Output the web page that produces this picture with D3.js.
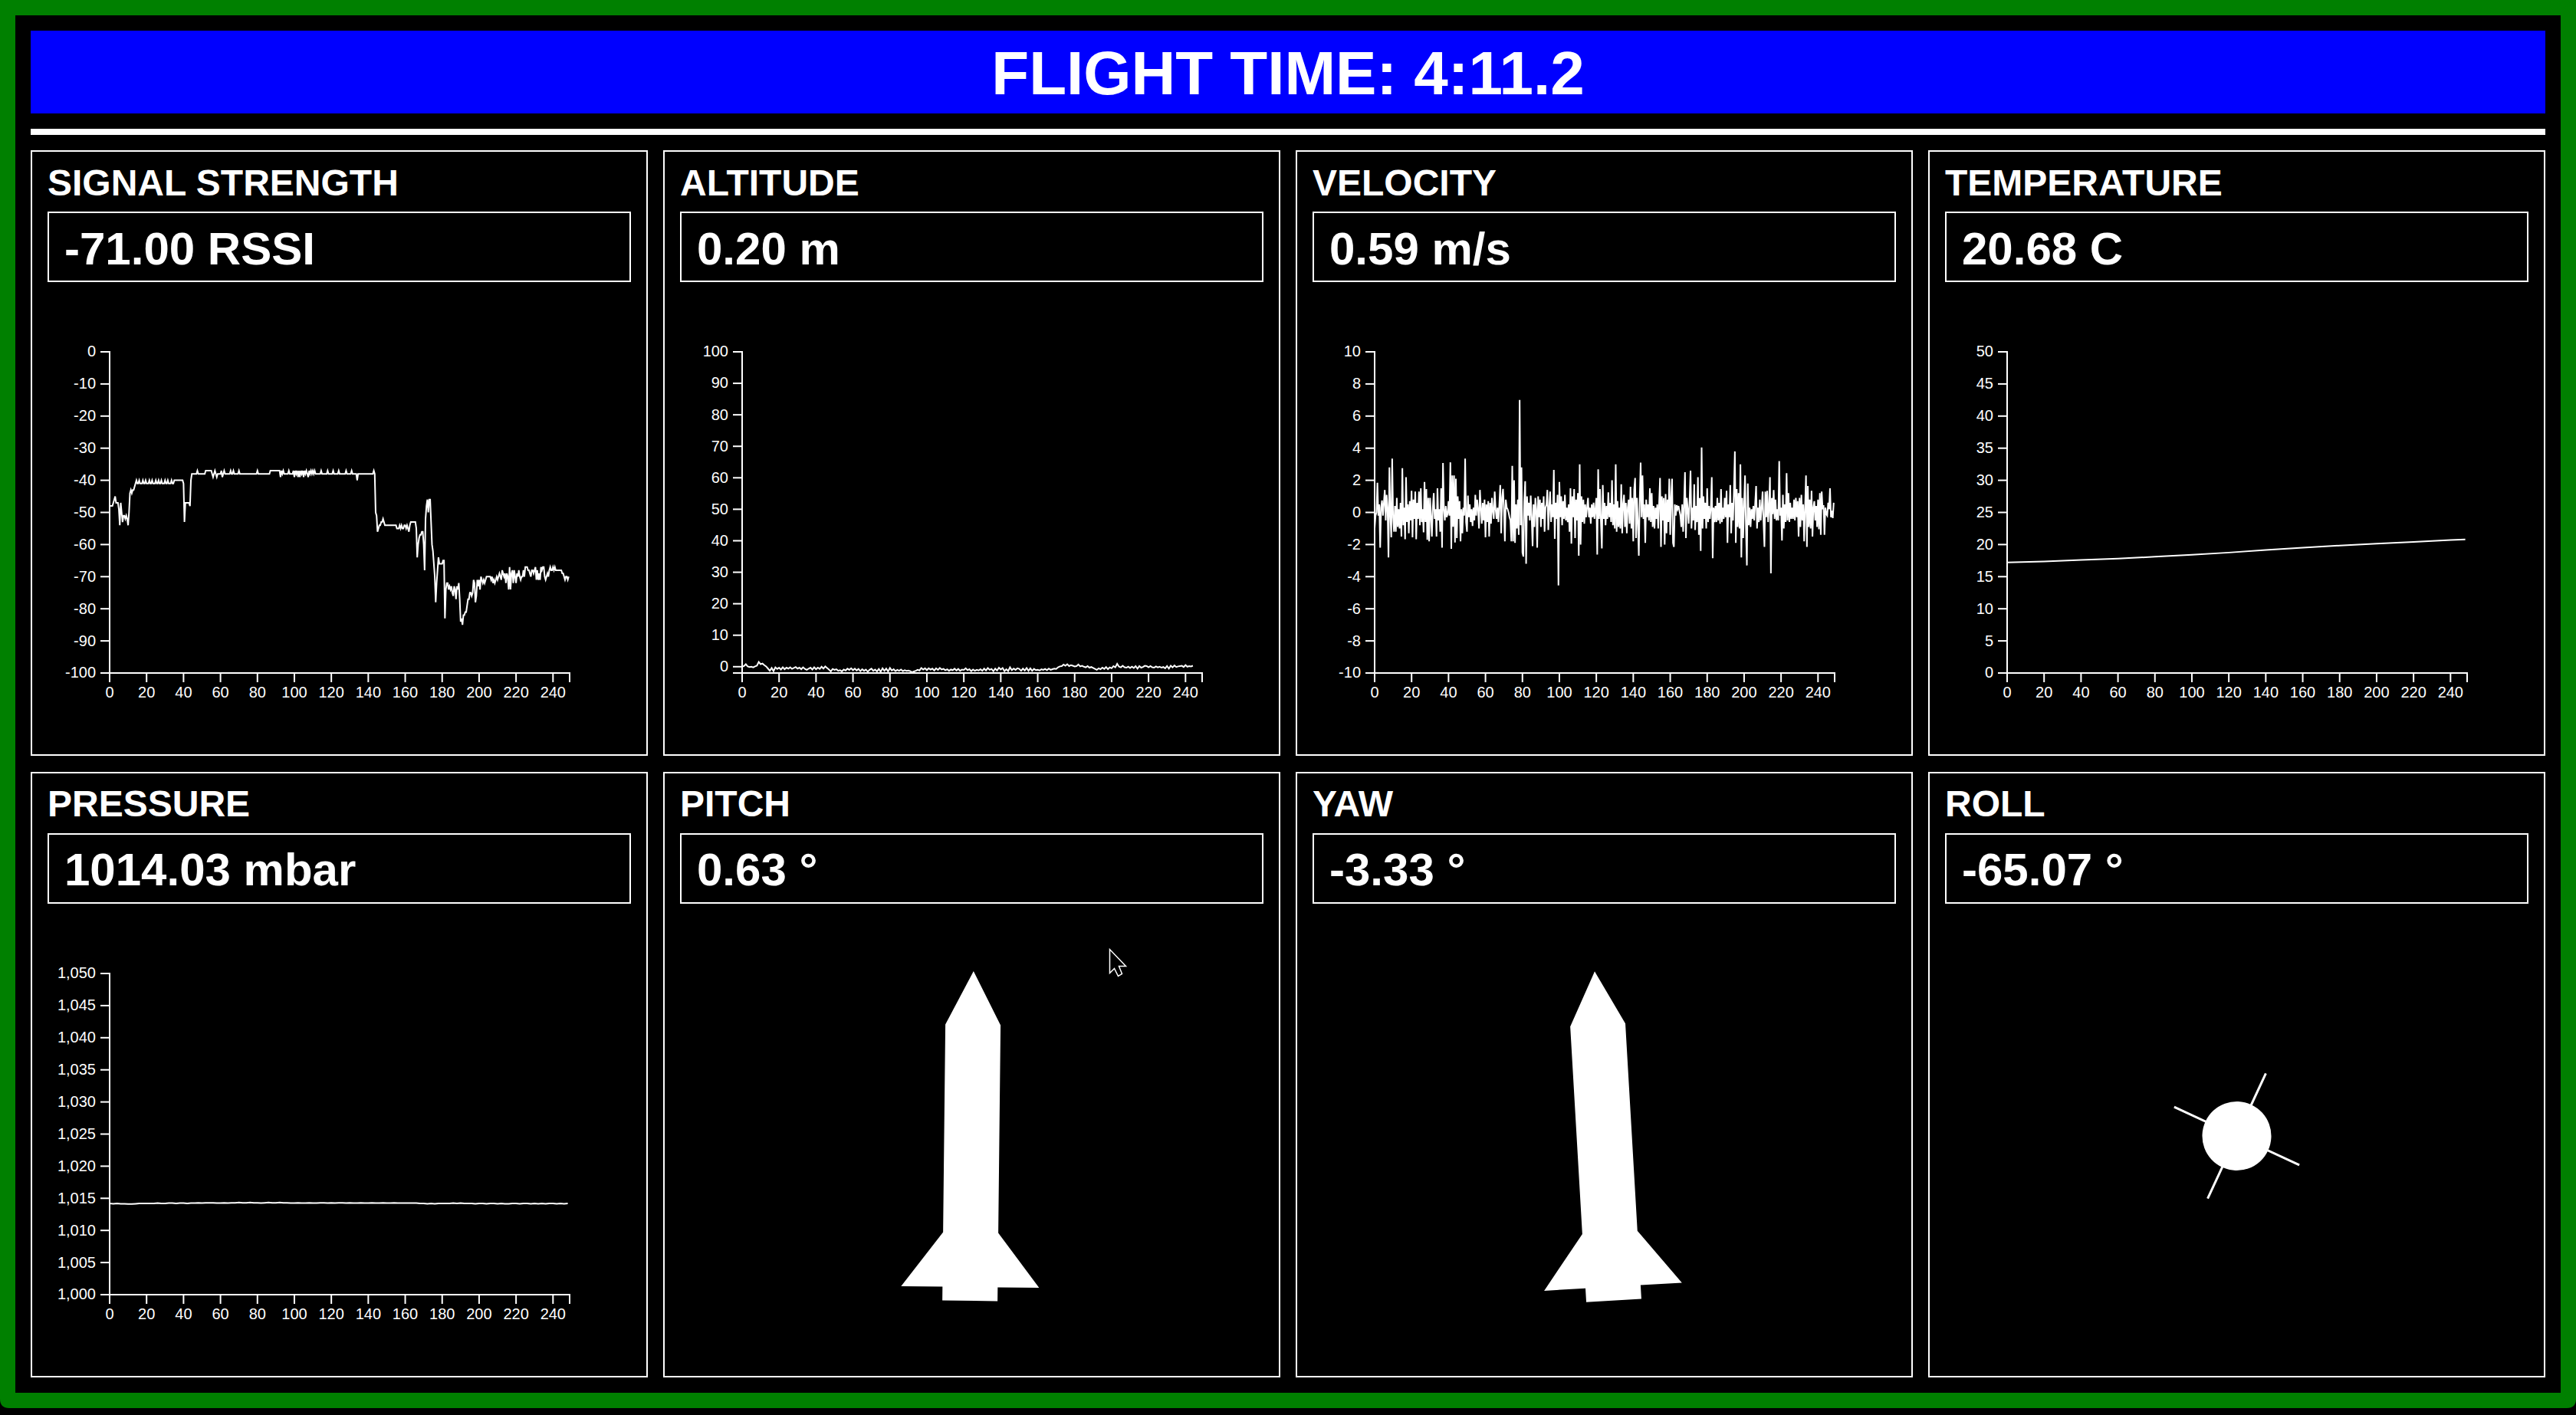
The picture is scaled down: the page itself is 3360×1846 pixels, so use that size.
<!DOCTYPE html>
<html>
<head>
<meta charset="utf-8">
<title>Flight telemetry</title>
<script src="https://cdn.jsdelivr.net/npm/d3@7"></script>
<style>
  html, body { margin: 0; padding: 0; background: #000; overflow: hidden; }
  svg { display: block; font-family: "Liberation Sans", Arial, sans-serif; }
  .tick text { font-size: 20px; fill: #fff; font-family: "Liberation Sans", Arial, sans-serif; }
  .tick line, .domain { stroke: #fff; stroke-width: 2; }
</style>
</head>
<body>
<script>
const width = 3360,
  height = 1846;

const flightTime = "FLIGHT TIME: 4:11.2";
const panelTitles = ["SIGNAL STRENGTH", "ALTITUDE", "VELOCITY", "TEMPERATURE", "PRESSURE", "PITCH", "YAW", "ROLL"];
const panelReadouts = ["-71.00 RSSI", "0.20 m", "0.59 m/s", "20.68 C", "1014.03 mbar", "0.63 °", "-3.33 °", "-65.07 °"];

const timeTicks = [0, 20, 40, 60, 80, 100, 120, 140, 160, 180, 200, 220, 240];
const timeMax = 249;

const signalTicks = [0, -10, -20, -30, -40, -50, -60, -70, -80, -90, -100];
const altitudeTicks = [0, 10, 20, 30, 40, 50, 60, 70, 80, 90, 100];
const velocityTicks = [-10, -8, -6, -4, -2, 0, 2, 4, 6, 8, 10];
const temperatureTicks = [0, 5, 10, 15, 20, 25, 30, 35, 40, 45, 50];
const pressureTicks = [1000, 1005, 1010, 1015, 1020, 1025, 1030, 1035, 1040, 1045, 1050];

// one reading every half second
const signalValues = [
  -48,-48,-48,-48,-47,-46,-45,-47,-47,-47,
  -49,-54,-47,-50,-53,-51,-51,-52,-51,-52,
  -54,-50,-44,-43,-44,-43,-43,-42,-41,-40,
  -41,-41,-40,-41,-41,-41,-40,-41,-41,-40,
  -41,-41,-41,-40,-41,-41,-40,-41,-41,-41,
  -40,-41,-41,-40,-41,-41,-40,-41,-41,-41,
  -40,-41,-41,-40,-41,-41,-41,-40,-41,-41,
  -40,-40,-40,-40,-40,-40,-40,-40,-40,-40,
  -41,-53,-47,-47,-47,-47,-47,-48,-40,-38,
  -38,-38,-38,-38,-38,-37,-38,-38,-38,-38,
  -38,-38,-38,-38,-37,-37,-37,-37,-37,-37,
  -37,-38,-39,-38,-37,-38,-39,-38,-38,-38,
  -38,-37,-39,-38,-37,-38,-38,-38,-38,-38,
  -38,-37,-38,-38,-37,-38,-38,-38,-38,-38,
  -37,-38,-38,-38,-38,-38,-38,-38,-38,-38,
  -38,-38,-38,-38,-38,-38,-38,-38,-38,-38,
  -37,-38,-38,-38,-38,-38,-38,-38,-38,-38,
  -38,-38,-38,-38,-37,-37,-37,-37,-37,-37,
  -37,-37,-37,-37,-37,-39,-37,-38,-37,-38,
  -38,-38,-38,-38,-37,-38,-38,-38,-38,-37,
  -39,-37,-38,-37,-39,-37,-39,-37,-38,-37,
  -39,-37,-38,-37,-38,-39,-37,-38,-37,-38,
  -37,-38,-37,-38,-38,-38,-38,-38,-38,-37,
  -38,-38,-38,-38,-38,-38,-37,-38,-38,-38,
  -38,-38,-37,-38,-38,-38,-38,-38,-37,-38,
  -38,-38,-38,-38,-38,-38,-37,-38,-38,-38,
  -38,-38,-37,-38,-38,-38,-38,-38,-40,-38,
  -38,-38,-38,-38,-38,-38,-38,-38,-38,-38,
  -38,-38,-38,-38,-38,-38,-37,-38,-50,-51,
  -56,-55,-54,-54,-53,-53,-52,-53,-54,-54,
  -54,-54,-54,-54,-54,-54,-54,-54,-54,-54,
  -54,-55,-55,-55,-54,-55,-54,-55,-55,-54,
  -54,-55,-54,-55,-56,-54,-53,-53,-53,-53,
  -53,-53,-55,-64,-60,-58,-57,-57,-56,-56,
  -60,-68,-52,-48,-46,-50,-46,-46,-53,-60,
  -62,-66,-70,-78,-72,-68,-64,-66,-66,-66,
  -66,-65,-65,-83,-74,-72,-72,-74,-73,-74,
  -73,-75,-76,-73,-74,-77,-73,-74,-72,-77,
  -84,-83,-85,-82,-82,-81,-81,-79,-77,-77,
  -75,-75,-76,-75,-71,-72,-78,-76,-71,-73,
  -71,-74,-70,-71,-72,-71,-72,-71,-70,-70,
  -70,-70,-70,-71,-70,-72,-71,-72,-71,-70,
  -71,-70,-69,-70,-71,-68,-69,-70,-69,-72,
  -69,-70,-74,-67,-74,-69,-68,-72,-68,-70,
  -72,-69,-70,-68,-70,-71,-70,-70,-68,-70,
  -67,-67,-67,-68,-68,-69,-70,-68,-68,-69,
  -68,-67,-71,-68,-71,-69,-71,-67,-68,-67,
  -67,-70,-71,-70,-69,-70,-68,-67,-68,-68,
  -67,-68,-67,-68,-68,-68,-68,-68,-68,-68,
  -69,-69,-70,-71,-70,-70,-71,-70
];

// one reading every second
const altitudeValues = [
  0,0.2,0.8,0.1,-0.1,0,-0.2,0.1,0.3,1.5,
  0.8,1.0,0.5,0.1,-0.6,-1.3,-0.4,-1.4,-0.2,-0.7,
  -0.3,-0.9,-0.2,-0.8,-0.3,-0.6,-0.2,-0.7,-0.4,-0.1,
  -0.6,-0.3,-0.8,-0.2,-0.7,-1.0,-0.6,-0.3,-0.9,-0.2,
  -0.8,-0.3,-0.7,0,-0.6,0.1,-0.4,-0.9,-1.5,-0.7,
  -1.0,-0.8,-1.3,-1.1,-1.5,-0.9,-1.2,-0.6,-1.0,-0.5,
  -1.1,-0.6,-1.2,-0.7,-1.4,-0.8,-1.3,-0.9,-1.6,-1.0,
  -0.6,-1.3,-0.9,-1.5,-0.7,-1.6,-0.5,-1.3,-0.6,-1.5,
  -0.4,-1.2,-0.8,-1.4,-1.0,-1.3,-0.9,-1.4,-1.1,-1.3,
  -1.2,-1.4,-1.8,-1.5,-1.3,-1.0,-1.2,-0.4,-0.9,-0.5,
  -1.1,-0.5,-0.9,-0.6,-1.2,-0.5,-1.0,-0.4,-0.9,-0.7,
  -1.1,-0.8,-1.3,-0.9,-1.1,-0.6,-1.2,-0.7,-1.3,-0.9,
  -1.0,-0.5,-1.1,-0.8,-1.4,-0.9,-1.3,-1.0,-1.2,-0.8,
  -1.3,-0.6,-1.2,-0.4,-1.0,-0.7,-1.4,-0.6,-1.2,-0.3,
  -0.9,-0.4,-1.4,-0.8,-1.4,-0.2,-1.1,-0.6,-1.0,-0.5,
  -0.7,-1.3,-0.6,-1.2,-0.4,-1.3,-0.5,-1.3,-0.7,-1.1,
  -1.0,-1.2,-0.8,-1.0,-0.7,-1.1,-0.6,-1.0,-0.8,-0.6,
  -0.7,-0.2,0.1,0.2,0.7,0.3,0.8,0.2,0.5,0.3,
  0.1,0.2,0.7,0.1,0.3,0,-0.2,0.2,-0.3,-0.1,
  -0.4,-0.7,-1.0,-0.5,-0.8,-0.3,-0.7,-0.1,-0.8,-0.2,
  -0.5,0.2,-0.2,0.9,0,-0.2,0.3,-0.2,-0.3,0,
  -0.4,0,-0.4,0.2,-0.6,0.2,-0.3,-0.1,0.3,0.2,
  -0.2,0.2,-0.2,-0.3,0.1,-0.2,0,-0.3,-0.1,-0.5,
  0.2,-0.6,0.3,-0.2,0.4,-0.1,0.1,0.2,0.3,-0.1,
  0.5,0,0.2,0.1,0.3
];

// one reading every half second
const velocityValues = [
  -1.0,-0.2,0.0,1.85,-0.2,0.5,-2.2,0.3,0.75,-0.2,
  0.6,1.4,-0.5,1.1,0.2,-2.8,2.8,-0.1,-1.55,3.35,
  -0.3,-1.2,0.4,-1.2,0.9,-0.9,0.2,-1.0,0.6,-1.5,
  2.76,-0.8,0.3,-1.67,2.2,-0.6,0.5,-1.3,0.7,-0.5,
  1.35,-1.55,0.8,-0.4,1.3,-1.67,0.6,-0.4,1.3,-0.8,
  1.5,-0.6,0.2,-1.24,1.9,-0.6,1.46,-1.7,0.9,-1.8,
  0.9,-0.2,-1.5,0.3,1.2,-0.4,0.2,-1.5,1.5,-0.5,
  0.2,-1.2,1.5,-2.2,3.08,0.2,-0.5,0.4,-0.3,-0.1,
  0.7,-0.2,3.12,-2.27,2.3,-0.9,2.3,-1.87,2.1,-1.6,
  1.0,-0.4,0.7,-1.8,0.2,-1.3,0.3,-0.2,3.35,-0.6,
  -1.2,1.05,-0.3,0.5,-0.6,0.2,-0.85,0.3,-0.5,1.1,
  -0.2,0.8,0.2,-1.0,1.4,0.3,-0.7,0.6,-0.5,0.8,
  -1.55,0.5,-0.6,0.7,-1.5,0.6,-0.7,0.9,0.1,-0.4,
  1.3,0.2,-0.4,0.3,-0.6,0.5,1.7,-1.3,0.9,1.46,
  0.2,-1.8,0.8,0.3,0.2,0.0,-0.3,-0.5,-1.8,2.9,
  -1.8,2.0,-1.9,0.5,-1.0,0.8,-1.4,7.0,-0.8,2.8,
  -2.5,-2.75,0.7,1.94,-3.2,1.0,-0.2,0.6,-0.5,1.05,
  -0.3,-2.1,0.5,-0.9,0.9,0.2,-2.2,1.0,-0.3,0.8,
  -0.9,0.6,-0.4,1.0,-1.2,0.3,0.5,1.4,-1.1,0.3,
  1.3,-0.6,0.5,-0.3,2.65,-1.65,0.6,-0.4,1.1,-4.55,
  1.9,-0.3,1.0,-0.8,0.7,-0.4,1.1,-0.5,0.3,-0.6,
  0.5,-1.2,1.5,-1.95,1.0,-0.3,1.45,-1.6,0.8,-0.5,
  1.2,-2.7,3.0,-2.0,1.0,-0.6,0.8,-0.7,0.5,-0.3,
  0.3,0.9,-0.3,0.3,-0.7,0.5,-0.3,0.6,-0.4,0.2,
  0.9,-2.63,2.68,-0.4,1.45,-0.6,-2.24,1.7,-0.4,0.6,
  -0.8,0.4,-0.4,1.25,-0.3,0.6,-0.6,2.0,-0.8,0.5,
  -1.0,3.0,-1.2,0.7,-0.9,0.3,-1.0,1.75,-1.3,0.5,
  1.1,-0.9,0.6,-1.3,0.3,0.8,-0.7,1.6,-1.0,0.9,
  -1.8,1.4,2.15,-1.6,0.9,-0.6,-2.7,0.8,3.1,-0.3,
  2.3,-0.4,0.5,-1.9,0.8,-0.3,0.5,-0.5,1.5,-0.6,
  1.2,-0.9,0.4,-1.0,0.3,-0.4,0.5,-1.0,0.6,2.15,
  -2.15,1.0,-0.5,0.9,-2.0,1.15,-1.3,0.8,-0.6,2.1,
  -1.4,0.9,2.1,-1.9,-2.15,0.5,-0.2,0.45,0.2,0.4,
  0.1,-0.2,-0.9,0.5,-1.2,0.6,2.5,-1.6,0.9,0.2,
  -0.7,0.8,2.6,-1.0,0.3,-0.5,1.75,-1.1,0.4,-0.6,
  2.2,-1.4,0.9,-2.4,4.05,-1.0,1.0,-0.4,0.6,-1.0,
  1.5,-0.6,0.4,-0.4,0.3,2.2,-2.85,0.3,-0.6,0.4,
  -0.6,0.9,-0.5,0.6,-0.7,1.45,-0.6,0.3,-0.4,0.9,
  -0.3,1.35,-1.9,0.5,-0.3,1.7,-1.3,0.6,-0.5,1.4,
  3.8,-1.9,1.45,-0.9,1.2,-1.0,3.0,-2.8,0.9,-1.6,
  0.5,2.3,-1.0,-3.3,1.8,-0.8,0.3,-0.9,0.2,-0.4,
  0.4,-0.5,0.6,1.65,-1.0,0.3,-0.6,0.8,-0.5,0.3,
  1.3,-0.6,-2.15,1.3,-0.3,1.35,-0.6,0.4,2.2,-3.8,
  0.9,-0.1,1.4,-0.4,0.8,-0.5,0.2,-0.5,3.2,-0.2,
  0.3,-1.75,1.1,-1.0,0.5,-0.6,2.45,-0.5,1.2,-0.6,
  0.6,-0.4,0.3,-0.4,0.8,-0.5,0.9,-0.3,0.7,-1.5,
  0.9,-0.9,1.1,-0.5,0.5,-1.8,0.3,2.3,-2.15,1.65,
  -0.9,0.8,-1.0,1.35,-1.5,0.3,0.7,-0.5,0.4,-0.9,
  0.8,-1.05,1.2,-1.4,1.3,0.2,0.45,-1.4,0.3,-0.1,
  -0.2,0.6,0.2,1.5,-0.3,0.1,-0.35,0.6
];

// the curve is smooth, so a reading every 20 seconds plus the last one is enough
const temperatureTimes = [0, 20, 40, 60, 80, 100, 120, 140, 160, 180, 200, 220, 240, 248];
const temperatureValues = [17.2, 17.37, 17.6, 17.8, 18.1, 18.4, 18.75, 19.15, 19.5, 19.85, 20.15, 20.4, 20.7, 20.8];

// one reading every 2 seconds
const pressureValues = [
  1014.2,1014.15,1014.2,1014.15,1014.15,1014.1,1014.1,1014.15,1014.2,1014.2,
  1014.2,1014.2,1014.2,1014.25,1014.2,1014.2,1014.25,1014.25,1014.2,1014.25,
  1014.25,1014.2,1014.25,1014.25,1014.3,1014.25,1014.3,1014.3,1014.3,1014.25,
  1014.25,1014.3,1014.25,1014.3,1014.3,1014.35,1014.3,1014.3,1014.35,1014.3,
  1014.3,1014.25,1014.3,1014.35,1014.3,1014.3,1014.35,1014.3,1014.3,1014.25,
  1014.25,1014.3,1014.25,1014.25,1014.3,1014.25,1014.25,1014.3,1014.3,1014.25,
  1014.3,1014.25,1014.3,1014.3,1014.25,1014.3,1014.25,1014.25,1014.3,1014.25,
  1014.25,1014.3,1014.25,1014.25,1014.3,1014.25,1014.25,1014.3,1014.25,1014.25,
  1014.25,1014.25,1014.25,1014.25,1014.2,1014.2,1014.15,1014.2,1014.15,1014.2,
  1014.2,1014.2,1014.2,1014.25,1014.2,1014.25,1014.2,1014.2,1014.2,1014.15,
  1014.2,1014.2,1014.15,1014.2,1014.2,1014.15,1014.2,1014.15,1014.15,1014.2,
  1014.2,1014.15,1014.2,1014.2,1014.15,1014.2,1014.15,1014.2,1014.15,1014.2,
  1014.2,1014.15,1014.2,1014.15,1014.2
];

const rollAngle = -65.07;
const attitudeAngles = [0.63, -3.33];

const charts = [
  { values: signalValues, time: (v, j) => j * 0.5, domain: [-100, 0], ticks: signalTicks },
  { values: altitudeValues, time: (v, j) => j, domain: [-2, 100], ticks: altitudeTicks },
  { values: velocityValues, time: (v, j) => j * 0.5, domain: [-10, 10], ticks: velocityTicks },
  { values: temperatureValues, time: (v, j) => temperatureTimes[j], domain: [0, 50], ticks: temperatureTicks },
  { values: pressureValues, time: (v, j) => j * 2, domain: [1000, 1050], ticks: pressureTicks }
];

const panelWidth = 805,
  panelHeight = 790,
  panelLeft = 40,
  panelTop = 196,
  columnStep = 825,
  rowStep = 811;
const chartLeft = 103,
  chartTop = 263,
  chartWidth = 600,
  chartHeight = 419;

const svg = d3
  .select("body")
  .append("svg")
  .attr("width", width)
  .attr("height", height);

// page frame
svg.append("rect").attr("width", width).attr("height", height).attr("fill", "#000");
svg.append("path")
  .attr("d", "M0,0H3360V1825Q3360,1837 3348,1837H12Q0,1837 0,1825Z")
  .attr("fill", "#008000");
svg.append("rect").attr("x", 20).attr("y", 20).attr("width", 3320).attr("height", 1797).attr("fill", "#000");

// header
svg.append("rect").attr("x", 40).attr("y", 40).attr("width", 3280).attr("height", 108).attr("fill", "#0000ff");
svg.append("rect").attr("x", 40).attr("y", 168).attr("width", 3280).attr("height", 8).attr("fill", "#fff");
svg.append("text")
  .attr("x", 1680)
  .attr("y", 123)
  .attr("text-anchor", "middle")
  .attr("font-size", 80)
  .attr("font-weight", "bold")
  .attr("fill", "#fff")
  .text(flightTime);

const panels = svg
  .selectAll("g.panel")
  .data(panelTitles)
  .enter()
  .append("g")
  .attr("class", "panel")
  .attr("transform", (d, i) => `translate(${panelLeft + (i % 4) * columnStep},${panelTop + Math.floor(i / 4) * rowStep})`);

panels.append("rect")
  .attr("x", 1)
  .attr("y", 1)
  .attr("width", panelWidth - 2)
  .attr("height", panelHeight - 2)
  .attr("fill", "none")
  .attr("stroke", "#fff")
  .attr("stroke-width", 2);

// second row text sits a touch higher in its box
const textLift = i => (i < 4 ? 0 : 1.5);

panels.append("text")
  .attr("x", 22)
  .attr("y", (d, i) => 59 - textLift(i))
  .attr("font-size", 48)
  .attr("font-weight", "bold")
  .attr("fill", "#fff")
  .text(d => d);

panels.append("rect")
  .attr("x", 23)
  .attr("y", 81)
  .attr("width", 759)
  .attr("height", 90)
  .attr("fill", "none")
  .attr("stroke", "#fff")
  .attr("stroke-width", 2);

panels.append("text")
  .attr("x", 44)
  .attr("y", (d, i) => 149 - textLift(i))
  .attr("font-size", 60)
  .attr("font-weight", "bold")
  .attr("fill", "#fff")
  .text((d, i) => panelReadouts[i]);

// line charts, first five panels
const formatTick = d => d3.format(",")(d).replace("\u2212", "-");

panels.filter((d, i) => i < charts.length).each(function(d, i) {
  const chart = charts[i];
  const g = d3.select(this).append("g").attr("transform", `translate(${chartLeft},${chartTop})`);

  const xScale = d3.scaleLinear().domain([0, timeMax]).range([0, chartWidth]);
  const yScale = d3.scaleLinear().domain(chart.domain).range([chartHeight, 0]);

  const xAxis = d3.axisBottom(xScale).tickValues(timeTicks).tickSize(12).tickPadding(6).offset(0);
  const yAxis = d3.axisLeft(yScale).tickValues(chart.ticks).tickFormat(formatTick).tickSize(12).tickPadding(6).offset(0);

  g.append("g").attr("transform", `translate(0,${chartHeight})`).call(xAxis);
  g.append("g").call(yAxis);

  const line = d3.line()
    .x((v, j) => xScale(chart.time(v, j)))
    .y(v => yScale(v));

  g.append("path")
    .attr("d", line(chart.values))
    .attr("fill", "none")
    .attr("stroke", "#fff")
    .attr("stroke-width", 2)
    .attr("stroke-linejoin", "miter");
});

// attitude icons, rotated by the reading
const rocketOutline = [[0,-215],[36,-145],[36,126],[90,197],[36,197],[36,215],[-36,215],[-36,197],[-90,197],[-36,126],[-36,-145]];
const iconX = panelWidth / 2,
  iconY = 475;

panels.filter((d, i) => i === 5 || i === 6).append("path")
  .attr("d", d3.line()(rocketOutline) + "Z")
  .attr("fill", "#fff")
  .attr("transform", (d, i) => `translate(${iconX},${iconY}) rotate(${attitudeAngles[i]})`);

const rollIcon = panels.filter((d, i) => i === 7).append("g")
  .attr("transform", `translate(${iconX},${iconY}) rotate(${rollAngle})`);
rollIcon.selectAll("line")
  .data([[90, 0], [-90, 0], [0, 90], [0, -90]])
  .enter()
  .append("line")
  .attr("x2", d => d[0])
  .attr("y2", d => d[1])
  .attr("stroke", "#fff")
  .attr("stroke-width", 3);
rollIcon.append("circle").attr("r", 45).attr("fill", "#fff");

// mouse pointer caught in the capture
svg.append("path")
  .attr("d", d3.line()([[0,0],[0,31],[6,25],[11,35],[16,32],[12,22],[21,22]]) + "Z")
  .attr("transform", "translate(1447.5,1238.5)")
  .attr("fill", "#000")
  .attr("stroke", "#fff")
  .attr("stroke-width", 1.5);
</script>
</body>
</html>
